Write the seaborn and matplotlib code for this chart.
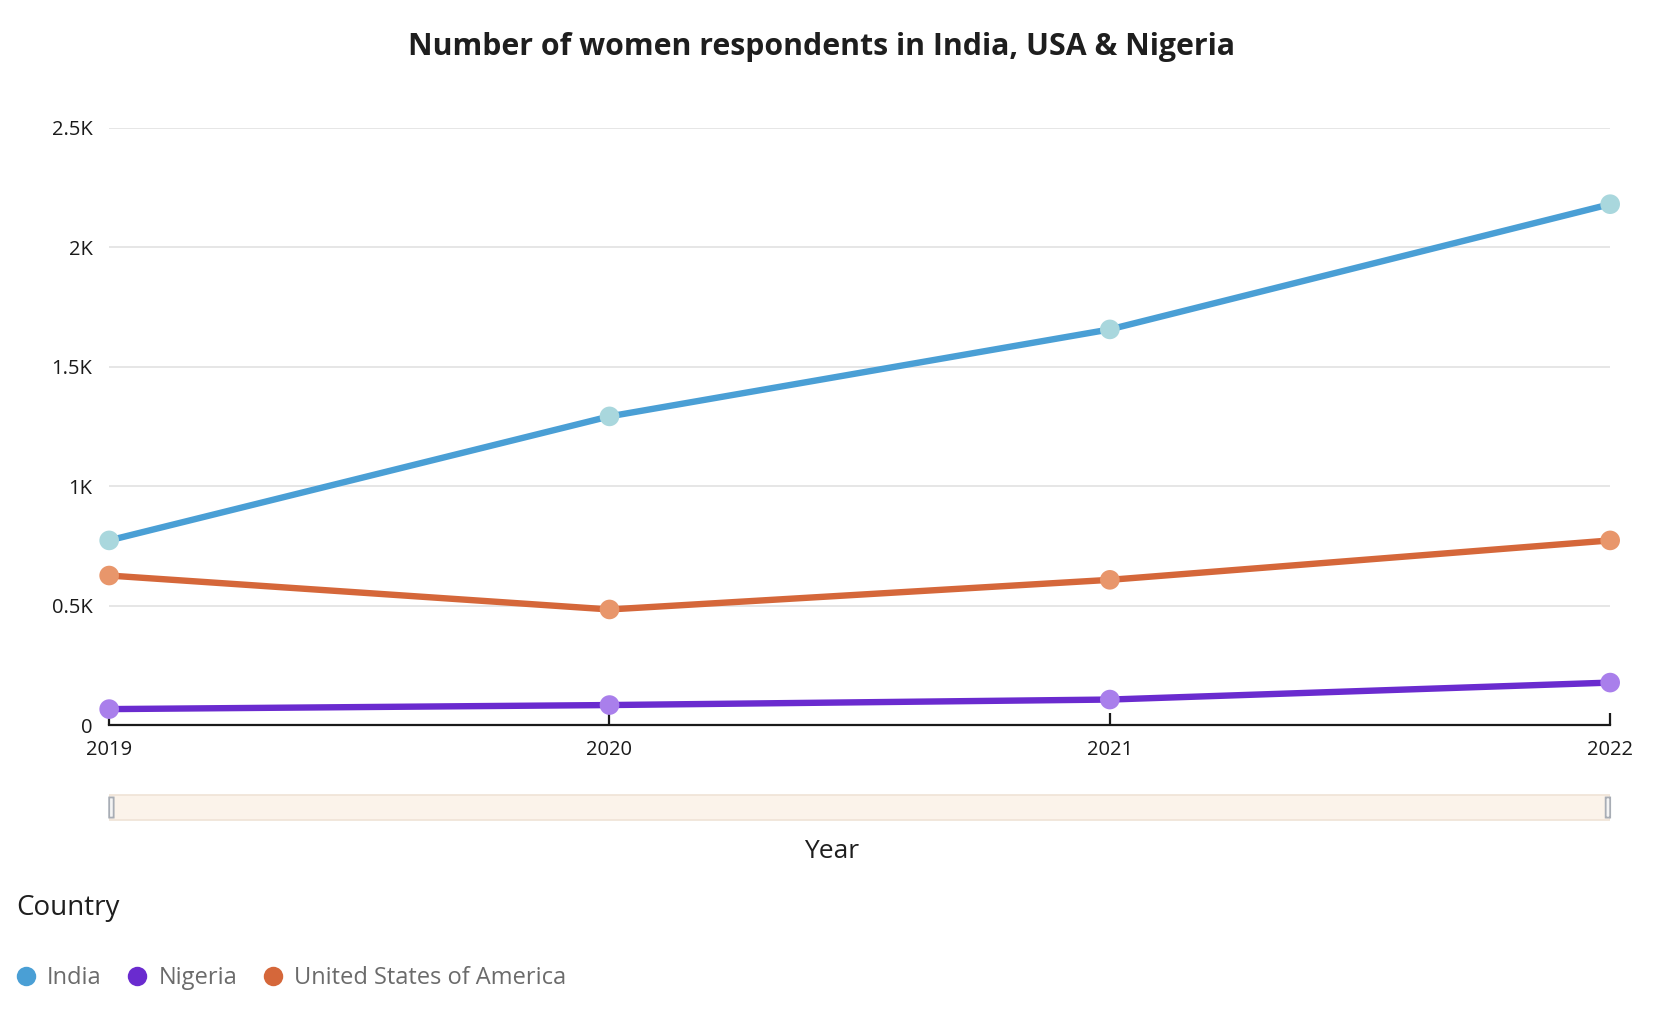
import pandas as pd
import matplotlib.pyplot as plt
import seaborn as sns
from matplotlib.lines import Line2D
from matplotlib.patches import FancyBboxPatch

sns.set_style('white')
plt.rcParams['font.family'] = ['Open Sans', 'DejaVu Sans']

years = [2019, 2020, 2021, 2022]
countries = ['India', 'Nigeria', 'United States of America']
india = [773, 1292, 1656, 2180]
nigeria = [67, 84, 107, 178]
usa = [626, 484, 608, 773]

y_ticks = [0, 500, 1000, 1500, 2000, 2500]
y_labels = ['0', '0.5K', '1K', '1.5K', '2K', '2.5K']

line_colors = {'India': '#4a9fd5', 'Nigeria': '#6a2bcf', 'United States of America': '#d5673a'}
dot_colors = {'India': '#a9d7dd', 'Nigeria': '#a97feb', 'United States of America': '#e8966b'}

df = pd.DataFrame({
    'Year': years * 3,
    'Count': india + nigeria + usa,
    'Country': [c for c in countries for _ in years],
})

fig = plt.figure(figsize=(16.54, 10.30), dpi=100)
ax = fig.add_axes([0.066, 0.296, 0.9075, 0.58])

sns.lineplot(data=df, x='Year', y='Count', hue='Country', palette=line_colors,
             linewidth=4.6, legend=False, ax=ax, zorder=3)
sns.scatterplot(data=df, x='Year', y='Count', hue='Country', palette=dot_colors,
                s=200, edgecolor='none', legend=False, ax=ax, zorder=4, clip_on=False)
for coll in ax.collections:
    coll.set_clip_on(False)

ax.set_xlim(2019, 2022)
ax.set_ylim(0, 2500)
ax.set_xticks(years)
ax.set_xticklabels([str(y) for y in years], fontsize=14.5, color='#1a1a1a')
ax.set_yticks(y_ticks)
ax.set_yticklabels(y_labels, fontsize=14.5, color='#1a1a1a')
ax.grid(axis='y', color='#e2e2e2', linewidth=1.2)
ax.grid(axis='x', visible=False)
for s in ['top', 'right', 'left']:
    ax.spines[s].set_visible(False)
ax.spines['bottom'].set_color('#1a1a1a')
ax.spines['bottom'].set_linewidth(1.6)
ax.tick_params(axis='x', direction='in', length=9, width=1.6, color='#1a1a1a', pad=11,
               bottom=True)
ax.tick_params(axis='y', length=0, pad=12)
ax.set_xlabel('')
ax.set_ylabel('')

# range slider under the chart
sl = fig.add_axes([0.066, 0.202, 0.9075, 0.028])
sl.set_xlim(0, 1)
sl.set_ylim(0, 1)
sl.axis('off')
sl.add_patch(plt.Rectangle((0, 0.05), 1, 0.9, facecolor='#fbf3ea', edgecolor='#efe3d6',
                           linewidth=1.2))
for hx in [0.0015, 0.9985]:
    sl.add_patch(FancyBboxPatch((hx - 0.0015, 0.15), 0.003, 0.7,
                                boxstyle='round,pad=0,rounding_size=0.0015',
                                facecolor='#f4f4f4', edgecolor='#a8adb5', linewidth=1.3,
                                clip_on=False))

fig.text(0.4965, 0.954, 'Number of women respondents in India, USA & Nigeria',
         ha='center', va='center', fontsize=21.8, fontweight='bold', color='#1e1e1e')
fig.text(0.503, 0.173, 'Year', ha='center', va='center', fontsize=19, color='#1e1e1e')
fig.text(0.0096, 0.118, 'Country', ha='left', va='center', fontsize=20, color='#1e1e1e')

handles = [Line2D([0], [0], marker='o', linestyle='none', markersize=14,
                  markerfacecolor=line_colors[c], markeredgecolor='none') for c in countries]
leg = fig.legend(handles, countries, loc='center left', bbox_to_anchor=(0.0085, 0.05),
                 ncol=3, frameon=False, fontsize=17, handletextpad=0.4,
                 columnspacing=1.0, handlelength=1.0, borderaxespad=0, borderpad=0)
for t in leg.get_texts():
    t.set_color('#6b6b6b')

fig.savefig('out.png', dpi=100)
